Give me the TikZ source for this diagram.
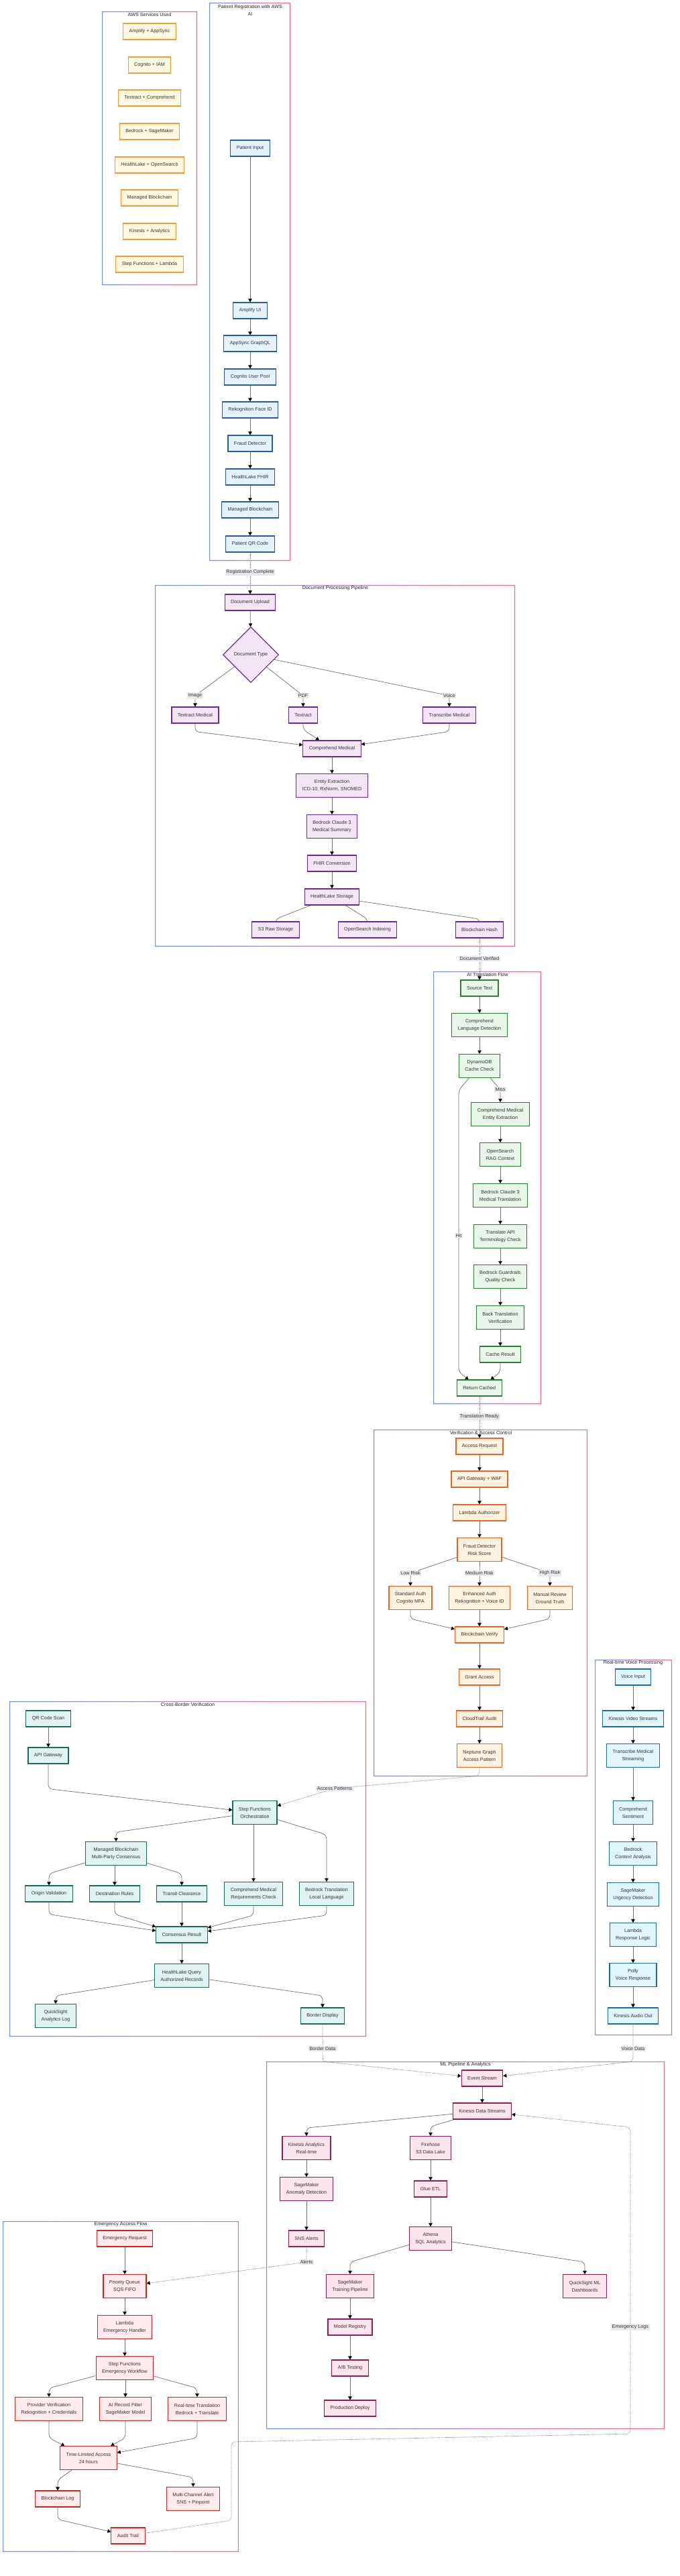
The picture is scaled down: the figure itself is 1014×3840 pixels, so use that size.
\documentclass[tikz,border=0pt]{standalone}
\usepackage{fontspec}
\setmainfont{Liberation Sans}
\usetikzlibrary{arrows.meta,shapes.geometric,calc}
\definecolor{awsF}{HTML}{FFF8E1}\definecolor{awsD}{HTML}{F29B38}
\definecolor{regF}{HTML}{E3F2FD}\definecolor{regD}{HTML}{2B5BA8}
\definecolor{docF}{HTML}{F3E5F5}\definecolor{docD}{HTML}{6A2C9A}
\definecolor{aiF}{HTML}{E8F5E9}\definecolor{aiD}{HTML}{2E7D32}
\definecolor{verF}{HTML}{FFF3E0}\definecolor{verD}{HTML}{E8652A}
\definecolor{cbF}{HTML}{E0F2F1}\definecolor{cbD}{HTML}{1E6B5C}
\definecolor{voF}{HTML}{E1F5FE}\definecolor{voD}{HTML}{1F6BA5}
\definecolor{mlF}{HTML}{FCE4EC}\definecolor{mlD}{HTML}{8E1E5A}
\definecolor{emF}{HTML}{FFEBEE}\definecolor{emD}{HTML}{C62828}
\definecolor{edgeC}{HTML}{6E6E6E}\definecolor{lblF}{HTML}{E8E8EE}
\definecolor{txtC}{HTML}{333333}\definecolor{ttlC}{HTML}{222222}
\definecolor{frL}{HTML}{6F8FF0}\definecolor{frR}{HTML}{EE6A8E}
\pgfdeclarelayer{frames}\pgfdeclarelayer{edges}
\pgfsetlayers{frames,edges,main}
\newcommand{\sgframe}[4]{\shade[left color=frL,right color=frR,even odd rule] (#1,#2) rectangle (#3,#4) ({#1+1.2},{#2+1.2}) rectangle ({#3-1.2},{#4-1.2});}
\tikzset{
 nbase/.style={draw, rectangle, line width=1.1pt, font=\fontsize{7.2}{11}\selectfont, text=txtC, align=center, inner xsep=9pt, inner ysep=4pt, minimum height=24pt},
 twol/.style={minimum height=35pt},
 nAws/.style={nbase, fill=awsF, draw=awsD},
 nReg/.style={nbase, fill=regF, draw=regD},
 nDoc/.style={nbase, fill=docF, draw=docD},
 nAi/.style={nbase, fill=aiF, draw=aiD},
 nVer/.style={nbase, fill=verF, draw=verD},
 nCb/.style={nbase, fill=cbF, draw=cbD},
 nVo/.style={nbase, fill=voF, draw=voD},
 nMl/.style={nbase, fill=mlF, draw=mlD},
 nEm/.style={nbase, fill=emF, draw=emD},
 conn/.style={draw=edgeC, line width=0.7pt, rounded corners=6pt, -{Triangle[length=5pt,width=5.5pt,color=black]}},
 dconn/.style={conn, dash pattern=on 1pt off 1.2pt},
 elab/.style={fill=lblF, text=txtC, font=\fontsize{7.2}{9}\selectfont, inner xsep=1.5pt, inner ysep=1.5pt},
 sgt/.style={font=\fontsize{7.2}{11}\selectfont, text=ttlC, align=center, inner sep=0pt},
}
\begin{document}
\begin{tikzpicture}[x=1pt,y=-1pt]
\useasboundingbox (0,0) rectangle (1014,3840);
\begin{pgfonlayer}{frames}
\fill[white] (0,0) rectangle (1014,3840);
\sgframe{152}{17}{294}{425}
\sgframe{312}{4}{433}{836}
\sgframe{231}{872}{768}{1411}
\sgframe{646}{1448}{807}{2093}
\sgframe{557}{2131}{876}{2648}
\sgframe{14}{2536}{546}{3036}
\sgframe{887}{2474}{1002}{3034}
\sgframe{397}{3073}{991}{3621}
\sgframe{4}{3311}{356}{3804}
\node[sgt] (tAWS) at (223,22) {AWS Services Used};
\node[sgt] (tReg) at (373,15) {Patient Registration with AWS\\AI};
\node[sgt] (tDoc) at (500,877) {Document Processing Pipeline};
\node[sgt] (tAI) at (727,1453) {AI Translation Flow};
\node[sgt] (tVer) at (717,2136) {Verification \& Access Control};
\node[sgt] (tCB) at (280,2541) {Cross-Border Verification};
\node[sgt] (tVo) at (944,2479) {Real-time Voice Processing};
\node[sgt] (tML) at (694,3078) {ML Pipeline \& Analytics};
\node[sgt] (tEm) at (180,3316) {Emergency Access Flow};
\end{pgfonlayer}

% AWS services
\node[nAws] (aws1) at (223,47) {Amplify + AppSync};
\node[nAws] (aws2) at (223,97) {Cognito + IAM};
\node[nAws] (aws3) at (223,146) {Textract + Comprehend};
\node[nAws] (aws4) at (223,196) {Bedrock + SageMaker};
\node[nAws] (aws5) at (223,246) {HealthLake + OpenSearch};
\node[nAws] (aws6) at (223,295) {Managed Blockchain};
\node[nAws] (aws7) at (223,345) {Kinesis + Analytics};
\node[nAws] (aws8) at (223,394) {Step Functions + Lambda};

% Registration
\node[nReg] (pin) at (373,221) {Patient Input};
\node[nReg] (ampui) at (373,463) {Amplify UI};
\node[nReg] (appsync) at (373,512) {AppSync GraphQL};
\node[nReg] (cogpool) at (373,562) {Cognito User Pool};
\node[nReg] (rekface) at (373,611) {Rekognition Face ID};
\node[nReg] (fraudreg) at (373,661) {Fraud Detector};
\node[nReg] (hlfhir) at (373,711) {HealthLake FHIR};
\node[nReg] (mbreg) at (373,760) {Managed Blockchain};
\node[nReg] (pqr) at (373,811) {Patient QR Code};
\node[elab] (lReg) at (373,853) {Registration Complete};

% Document processing
\node[nDoc] (dup) at (373,898) {Document Upload};
\node[nDoc, diamond, minimum width=83pt, minimum height=83pt, inner sep=0pt] (dtype) at (374,976) {Document Type};
\node[elab] (lImage) at (291,1037) {Image};
\node[elab] (lPDF) at (452,1037) {PDF};
\node[elab] (lVoice) at (670,1037) {Voice};
\node[nDoc] (tmed) at (291,1066) {Textract Medical};
\node[nDoc] (textr) at (452,1066) {Textract};
\node[nDoc] (transm) at (670,1066) {Transcribe Medical};
\node[nDoc] (cmed) at (495,1116) {Comprehend Medical};
\node[nDoc, twol] (entity) at (495,1171) {Entity Extraction\\ICD-10, RxNorm, SNOMED};
\node[nDoc, twol] (bsum) at (495,1232) {Bedrock Claude 3\\Medical Summary};
\node[nDoc] (fhirc) at (495,1287) {FHIR Conversion};
\node[nDoc] (hls) at (495,1337) {HealthLake Storage};
\node[nDoc] (s3raw) at (411,1386) {S3 Raw Storage};
\node[nDoc] (osidx) at (548,1386) {OpenSearch Indexing};
\node[nDoc] (bhash) at (715,1386) {Blockchain Hash};
\node[elab] (lDocV) at (715,1429) {Document Verified};

% AI translation
\node[nAi] (src) at (715,1473) {Source Text};
\node[nAi, twol] (clang) at (715,1528) {Comprehend\\Language Detection};
\node[nAi, twol] (ddb) at (715,1589) {DynamoDB\\Cache Check};
\node[elab] (lMiss) at (746,1624) {Miss};
\node[nAi, twol] (cme) at (746,1661) {Comprehend Medical\\Entity Extraction};
\node[nAi, twol] (osrag) at (746,1721) {OpenSearch\\RAG Context};
\node[nAi, twol] (bmt) at (746,1782) {Bedrock Claude 3\\Medical Translation};
\node[nAi, twol] (tapi) at (746,1843) {Translate API\\Terminology Check};
\node[nAi, twol] (guard) at (746,1903) {Bedrock Guardrails\\Quality Check};
\node[nAi, twol] (backt) at (746,1964) {Back Translation\\Verification};
\node[nAi] (cres) at (746,2019) {Cache Result};
\node[nAi] (rc) at (715,2069) {Return Cached};
\node[elab] (lHit) at (684,1842) {Hit};
\node[elab] (lTR) at (715,2112) {Translation Ready};

% Verification
\node[nVer] (areq) at (715,2156) {Access Request};
\node[nVer] (apiwaf) at (715,2205) {API Gateway + WAF};
\node[nVer] (lauth) at (715,2255) {Lambda Authorizer};
\node[nVer, twol] (fdr) at (715,2310) {Fraud Detector\\Risk Score};
\node[elab] (lLow) at (612,2345) {Low Risk};
\node[elab] (lMed) at (715,2345) {Medium Risk};
\node[elab] (lHigh) at (820,2345) {High Risk};
\node[nVer, twol] (stda) at (612,2382) {Standard Auth\\Cognito MFA};
\node[nVer, twol] (enha) at (715,2382) {Enhanced Auth\\Rekognition + Voice ID};
\node[nVer, twol] (manr) at (820,2382) {Manual Review\\Ground Truth};
\node[nVer] (bver) at (715,2437) {Blockchain Verify};
\node[nVer] (grant) at (715,2500) {Grant Access};
\node[nVer] (ctrail) at (715,2562) {CloudTrail Audit};
\node[nVer, twol] (nept) at (715,2617) {Neptune Graph\\Access Pattern};
\node[elab] (lAP) at (499,2666) {Access Patterns};

% Cross-border
\node[nCb] (qrs) at (72,2562) {QR Code Scan};
\node[nCb] (apig) at (72,2617) {API Gateway};
\node[nCb, twol] (sfo) at (380,2702) {Step Functions\\Orchestration};
\node[nCb, twol] (mbm) at (173,2763) {Managed Blockchain\\Multi-Party Consensus};
\node[nCb] (orig) at (73,2823) {Origin Validation};
\node[nCb] (dest) at (171,2823) {Destination Rules};
\node[nCb] (trans) at (271,2823) {Transit Clearance};
\node[nCb, twol] (cmr) at (378,2823) {Comprehend Medical\\Requirements Check};
\node[nCb, twol] (btl) at (487,2823) {Bedrock Translation\\Local Language};
\node[nCb] (cons) at (271,2884) {Consensus Result};
\node[nCb, twol] (hlq) at (271,2945) {HealthLake Query\\Authorized Records};
\node[nCb, twol] (qsal) at (83,3005) {QuickSight\\Analytics Log};
\node[nCb] (bdisp) at (481,3005) {Border Display};
\node[elab] (lBD) at (481,3054) {Border Data};

% Voice
\node[nVo] (vin) at (944,2500) {Voice Input};
\node[nVo] (kin) at (944,2562) {Kinesis Video Streams};
\node[nVo, twol] (tms) at (944,2617) {Transcribe Medical\\Streaming};
\node[nVo, twol] (csent) at (944,2702) {Comprehend\\Sentiment};
\node[nVo, twol] (bctx) at (944,2763) {Bedrock\\Context Analysis};
\node[nVo, twol] (smu) at (944,2824) {SageMaker\\Urgency Detection};
\node[nVo, twol] (lrl) at (944,2884) {Lambda\\Response Logic};
\node[nVo, twol] (polly) at (944,2944) {Polly\\Voice Response};
\node[nVo] (kao) at (944,3005) {Kinesis Audio Out};
\node[elab] (lVD) at (944,3054) {Voice Data};

% ML
\node[nMl] (evs) at (719,3098) {Event Stream};
\node[nMl] (kds) at (719,3147) {Kinesis Data Streams};
\node[nMl, twol] (kan) at (457,3202) {Kinesis Analytics\\Real-time};
\node[nMl, twol] (fh) at (642,3202) {Firehose\\S3 Data Lake};
\node[nMl, twol] (sma) at (457,3263) {SageMaker\\Anomaly Detection};
\node[nMl] (glue) at (642,3263) {Glue ETL};
\node[nMl] (sns) at (457,3337) {SNS Alerts};
\node[nMl, twol] (ath) at (642,3337) {Athena\\SQL Analytics};
\node[nMl, twol] (smt) at (522,3408) {SageMaker\\Training Pipeline};
\node[nMl, twol] (qsml) at (872,3408) {QuickSight ML\\Dashboards};
\node[nMl] (mreg) at (522,3469) {Model Registry};
\node[nMl] (abt) at (522,3530) {A/B Testing};
\node[nMl] (prod) at (522,3590) {Production Deploy};
\node[elab] (lAl) at (457,3372) {Alerts};
\node[elab] (lEL) at (940,3469) {Emergency Logs};

% Emergency
\node[nEm] (ereq) at (186,3337) {Emergency Request};
\node[nEm, twol] (pq) at (186,3408) {Priority Queue\\SQS FIFO};
\node[nEm, twol] (leh) at (186,3469) {Lambda\\Emergency Handler};
\node[nEm, twol] (sfew) at (186,3530) {Step Functions\\Emergency Workflow};
\node[nEm, twol] (prov) at (73,3591) {Provider Verification\\Rekognition + Credentials};
\node[nEm, twol] (airf) at (187,3591) {AI Record Filter\\SageMaker Model};
\node[nEm, twol] (rtt) at (294,3591) {Real-time Translation\\Bedrock + Translate};
\node[nEm, twol] (tla) at (132,3664) {Time-Limited Access\\24 hours};
\node[nEm] (blog) at (86,3725) {Blockchain Log};
\node[nEm, twol] (mca) at (288,3725) {Multi-Channel Alert\\SNS + Pinpoint};
\node[nEm] (audit) at (191,3780) {Audit Trail};

\begin{pgfonlayer}{edges}
% registration
\draw[conn] (pin) -- (ampui);
\draw[conn] (ampui) -- (appsync);
\draw[conn] (appsync) -- (cogpool);
\draw[conn] (cogpool) -- (rekface);
\draw[conn] (rekface) -- (fraudreg);
\draw[conn] (fraudreg) -- (hlfhir);
\draw[conn] (hlfhir) -- (mbreg);
\draw[conn] (mbreg) -- (pqr);
\draw[dconn] (pqr) -- (lReg.center) -- (dup);
% document
\draw[conn] (dup) -- (dtype);
\draw[conn] (dtype) -- (lImage.center) -- (tmed);
\draw[conn] (dtype) -- (lPDF.center) -- (textr);
\draw[conn] (dtype) -- (lVoice.center) -- (transm);
\draw[conn] (tmed.south) -- ++(0,12) -- (cmed);
\draw[conn] (textr.south) -- ++(0,9) -- (cmed);
\draw[conn] (transm.south) -- ++(0,12) -- (cmed);
\draw[conn] (cmed) -- (entity);
\draw[conn] (entity) -- (bsum);
\draw[conn] (bsum) -- (fhirc);
\draw[conn] (fhirc) -- (hls);
\draw[conn] (hls) -- (s3raw |- 0,1370) -- (s3raw);
\draw[conn] (hls) -- (osidx |- 0,1370) -- (osidx);
\draw[conn] (hls) -- (bhash |- 0,1370) -- (bhash);
\draw[dconn] (bhash) -- (lDocV.center) -- (src);
% translation
\draw[conn] (src) -- (clang);
\draw[conn] (clang) -- (ddb);
\draw[conn] (ddb) -- (lMiss.center) -- (cme);
\draw[conn] (ddb) -- (684,1625) -- (lHit.center) -- (684,2045) -- (rc);
\draw[conn] (cme) -- (osrag);
\draw[conn] (osrag) -- (bmt);
\draw[conn] (bmt) -- (tapi);
\draw[conn] (tapi) -- (guard);
\draw[conn] (guard) -- (backt);
\draw[conn] (backt) -- (cres);
\draw[conn] (cres.south) -- ++(0,14) -- (rc);
\draw[dconn] (rc) -- (lTR.center) -- (areq);
% verification
\draw[conn] (areq) -- (apiwaf);
\draw[conn] (apiwaf) -- (lauth);
\draw[conn] (lauth) -- (fdr);
\draw[conn] (fdr) -- (lLow.center) -- (stda);
\draw[conn] (fdr) -- (lMed.center) -- (enha);
\draw[conn] (fdr) -- (lHigh.center) -- (manr);
\draw[conn] (stda.south) -- ++(0,13) -- (bver);
\draw[conn] (enha) -- (bver);
\draw[conn] (manr.south) -- ++(0,13) -- (bver);
\draw[conn] (bver) -- (grant);
\draw[conn] (grant) -- (ctrail);
\draw[conn] (ctrail) -- (nept);
\draw[dconn] (nept.south) -- ++(0,12) -- (lAP.center) -- (sfo);
% cross-border
\draw[conn] (qrs) -- (apig);
\draw[conn] (apig.south) -- ++(0,37) -- (sfo);
\draw[conn] (sfo) -- (mbm |- 0,2731) -- (mbm);
\draw[conn] (cmr |- sfo.south) -- (cmr);
\draw[conn] (sfo) -- (btl |- 0,2735) -- (btl);
\draw[conn] (mbm) -- (orig |- 0,2793) -- (orig);
\draw[conn] (dest |- mbm.south) -- (dest);
\draw[conn] (mbm) -- (trans |- 0,2793) -- (trans);
\draw[conn] (orig.south) -- ++(0,18) -- (cons);
\draw[conn] (dest.south) -- ++(0,18) -- (cons);
\draw[conn] (trans) -- (cons);
\draw[conn] (cmr.south) -- ++(0,14) -- (cons);
\draw[conn] (btl.south) -- ++(0,14) -- (cons);
\draw[conn] (cons) -- (hlq);
\draw[conn] (hlq) -- (qsal |- 0,2975) -- (qsal);
\draw[conn] (hlq) -- (bdisp |- 0,2975) -- (bdisp);
\draw[dconn] (bdisp) -- (lBD.center) -- (481,3073) -- (evs);
% voice
\draw[conn] (vin) -- (kin);
\draw[conn] (kin) -- (tms);
\draw[conn] (tms) -- (csent);
\draw[conn] (csent) -- (bctx);
\draw[conn] (bctx) -- (smu);
\draw[conn] (smu) -- (lrl);
\draw[conn] (lrl) -- (polly);
\draw[conn] (polly) -- (kao);
\draw[dconn] (kao) -- (lVD.center) -- (944,3073) -- (evs);
% ML
\draw[conn] (evs) -- (kds);
\draw[conn] (kds) -- (kan |- 0,3172) -- (kan);
\draw[conn] (kds) -- (fh |- 0,3170) -- (fh);
\draw[conn] (kan) -- (sma);
\draw[conn] (fh) -- (glue);
\draw[conn] (sma) -- (sns);
\draw[conn] (glue) -- (ath);
\draw[conn] (ath) -- (smt |- 0,3372) -- (smt);
\draw[conn] (ath) -- (qsml |- 0,3372) -- (qsml);
\draw[conn] (smt) -- (mreg);
\draw[conn] (mreg) -- (abt);
\draw[conn] (abt) -- (prod);
\draw[dconn] (sns) -- (lAl.center) -- (pq);
% emergency
\draw[conn] (ereq) -- (pq);
\draw[conn] (pq) -- (leh);
\draw[conn] (leh) -- (sfew);
\draw[conn] (sfew) -- (prov |- 0,3560) -- (prov);
\draw[conn] (airf |- sfew.south) -- (airf);
\draw[conn] (sfew) -- (rtt |- 0,3560) -- (rtt);
\draw[conn] (prov.south) -- ++(0,25) -- (tla);
\draw[conn] (airf.south) -- ++(0,25) -- (tla);
\draw[conn] (rtt.south) -- ++(0,25) -- (tla);
\draw[conn] (tla) -- (blog |- 0,3697) -- (blog);
\draw[conn] (tla) -- (mca |- 0,3693) -- (mca);
\draw[conn] (blog.south) -- ++(0,18) -- (audit);
\draw[dconn] (audit) -- (345,3757) -- (345,3640) -- (940,3628) -- (lEL.center) -- (940,3171) -- (kds);
\end{pgfonlayer}
\end{tikzpicture}
\end{document}
